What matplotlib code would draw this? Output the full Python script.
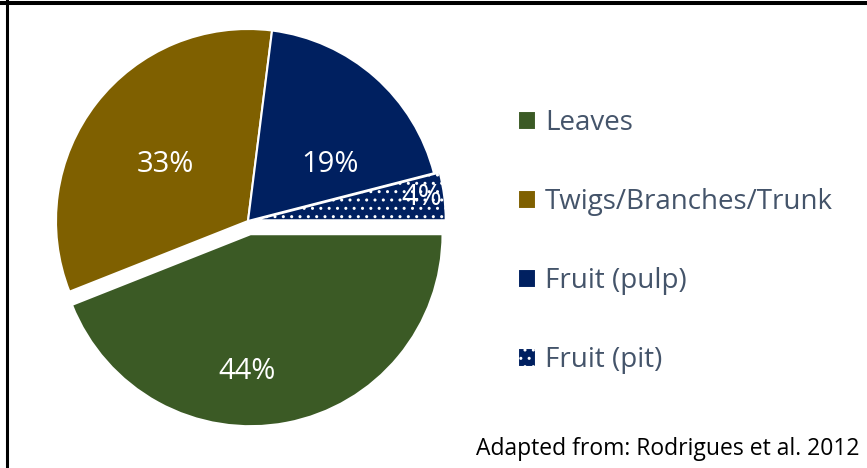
import matplotlib
matplotlib.use("Agg")
import matplotlib.pyplot as plt
from matplotlib.lines import Line2D

categories = ["Leaves", "Twigs/Branches/Trunk", "Fruit (pulp)", "Fruit (pit)"]
values = [44, 33, 19, 4]
colors = ["#3B5A25", "#7F6000", "#002060", "#002060"]
explode = [0.07, 0.0, 0.0, 0.03]
hatches = [None, None, None, ".."]
source = "Adapted from: Rodrigues et al. 2012"

plt.rcParams["font.family"] = ["Open Sans", "DejaVu Sans"]
plt.rcParams["hatch.color"] = "white"

W, H = 867, 468
fig = plt.figure(figsize=(W / 100, H / 100), dpi=100)

cx, cy, r = 248, 221, 192
lim = 1.3
side = 2 * lim * r
ax = fig.add_axes([(cx - side / 2) / W, (H - cy - side / 2) / H, side / W, side / H])

wedges, texts, autotexts = ax.pie(
    values, colors=colors, explode=explode, startangle=0, counterclock=False,
    autopct="%1.0f%%", pctdistance=0.55,
    wedgeprops=dict(edgecolor="white", linewidth=1.5),
    textprops=dict(color="white", fontsize=21),
)
for w, h in zip(wedges, hatches):
    if h:
        w.set_hatch(h)

label_pos = [(-0.005, -0.786), (-0.432, 0.292), (0.427, 0.292), (0.906, 0.120)]
for t, p in zip(autotexts, label_pos):
    t.set_position(p)
    t.set_ha("center")
    t.set_va("center")

ax.set_xlim(-lim, lim)
ax.set_ylim(-lim, lim)
ax.axis("off")

leg = fig.legend(
    wedges, categories, loc="upper left", bbox_to_anchor=(518 / W, 1 - 109 / H),
    frameon=False, fontsize=20, labelcolor="#44546A",
    handlelength=0.65, handleheight=0.65, handletextpad=0.32, labelspacing=1.84,
    borderaxespad=0, borderpad=0,
)

fig.text(860 / W, 1 - 455 / H, source, ha="right", va="baseline", fontsize=16.5, color="black")

fig.add_artist(Line2D([0, 1], [1 - 3 / H, 1 - 3 / H], transform=fig.transFigure, color="black", linewidth=2.9))
fig.add_artist(Line2D([7 / W, 7 / W], [0, 1], transform=fig.transFigure, color="black", linewidth=2.2))

fig.savefig("out.png", dpi=100)
